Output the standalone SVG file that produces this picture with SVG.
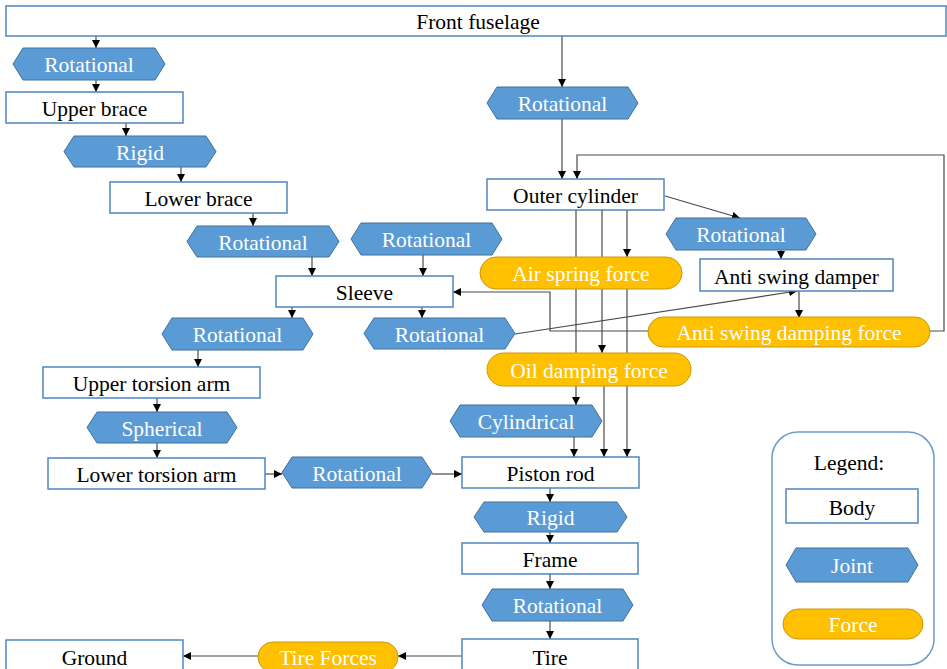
<svg xmlns="http://www.w3.org/2000/svg" width="947" height="669" viewBox="0 0 947 669">
<style>
.body rect{fill:#fff;stroke:#4F86C0;stroke-width:1.5}
.joint polygon{fill:#5B9BD5;stroke:#41719C;stroke-width:1}
.force rect{fill:#FFC000;stroke:#C9980A;stroke-width:1}
text{font-family:"Liberation Serif","Times New Roman",serif;font-size:21.5px;text-anchor:middle;transform:translateY(1px)}
.body text{fill:#000}
.joint text,.force text{fill:#fff}
.conn path{fill:none;stroke:#4a4a4a;stroke-width:1.2;marker-end:url(#ah)}
</style>
<defs>
<marker id="ah" markerUnits="userSpaceOnUse" markerWidth="9" markerHeight="9" refX="8" refY="4" orient="auto">
<path d="M0,0 L8,4 L0,8 z" fill="#000"/>
</marker>
</defs>
<rect width="947" height="669" fill="#fff"/>
<g id="connectors" class="conn">
<path d="M96,36 V48"/>
<path d="M96,80 V92"/>
<path d="M126,123 V136"/>
<path d="M181,167 V182"/>
<path d="M253,213 V226"/>
<path d="M312,257 V276"/>
<path d="M423,255 V276"/>
<path d="M292,307 V318"/>
<path d="M422,307 V318"/>
<path d="M198,350 V367"/>
<path d="M157,398 V412"/>
<path d="M157,443 V458"/>
<path d="M265,474 H282"/>
<path d="M432,474 H462"/>
<path d="M562,36 V87"/>
<path d="M562,119 V179"/>
<path d="M930,331 H944 V155 H577 V179"/>
<path d="M665,196 L740,218"/>
<path d="M781,250 V259"/>
<path d="M799,291 V318"/>
<path d="M515,334 L797,291"/>
<path d="M648,331 H550 V292 H453"/>
<path d="M627,210 V257"/>
<path d="M627,289 V457"/>
<path d="M602,210 V353"/>
<path d="M604,386 V457"/>
<path d="M576,210 V405"/>
<path d="M574,437 V457"/>
<path d="M550,488 V502"/>
<path d="M550,532 V543"/>
<path d="M550,574 V589"/>
<path d="M550,621 V639"/>
<path d="M462,656 H398"/>
<path d="M258,656 H183"/>
</g>
<g id="front-fuselage" class="body"><rect x="6" y="6" width="940" height="30"/><text x="478" y="28">Front fuselage</text></g>
<g id="joint-rot1" class="joint"><polygon points="13,64 23,48 155,48 165,64 155,80 23,80"/><text x="89" y="71">Rotational</text></g>
<g id="upper-brace" class="body"><rect x="6" y="92" width="177" height="31"/><text x="94.5" y="115">Upper brace</text></g>
<g id="joint-rigid1" class="joint"><polygon points="64,151.5 74,136 206,136 216,151.5 206,167 74,167"/><text x="140" y="159">Rigid</text></g>
<g id="lower-brace" class="body"><rect x="110" y="182" width="177" height="31"/><text x="198.5" y="205">Lower brace</text></g>
<g id="joint-rot2" class="joint"><polygon points="187,241.5 197,226 329,226 339,241.5 329,257 197,257"/><text x="263" y="249">Rotational</text></g>
<g id="joint-rot3" class="joint"><polygon points="351,239 361,223 492,223 502,239 492,255 361,255"/><text x="426.5" y="246">Rotational</text></g>
<g id="sleeve" class="body"><rect x="276" y="276" width="177" height="31"/><text x="364.5" y="299">Sleeve</text></g>
<g id="joint-rot4" class="joint"><polygon points="162,334 172,318 303,318 313,334 303,350 172,350"/><text x="237.5" y="341">Rotational</text></g>
<g id="joint-rot5" class="joint"><polygon points="364,333.5 374,318 505,318 515,333.5 505,349 374,349"/><text x="439.5" y="341">Rotational</text></g>
<g id="upper-torsion-arm" class="body"><rect x="43" y="367" width="217" height="31"/><text x="151.5" y="390">Upper torsion arm</text></g>
<g id="joint-spherical" class="joint"><polygon points="87,427.5 97,412 227,412 237,427.5 227,443 97,443"/><text x="162" y="435">Spherical</text></g>
<g id="lower-torsion-arm" class="body"><rect x="48" y="458" width="217" height="31"/><text x="156.5" y="481">Lower torsion arm</text></g>
<g id="joint-rot6" class="joint"><polygon points="282,472.5 292,457 422,457 432,472.5 422,488 292,488"/><text x="357" y="480">Rotational</text></g>
<g id="joint-rot7" class="joint"><polygon points="487,103 497,87 628,87 638,103 628,119 497,119"/><text x="562.5" y="110">Rotational</text></g>
<g id="outer-cylinder" class="body"><rect x="487" y="179" width="177" height="31"/><text x="575.5" y="202">Outer cylinder</text></g>
<g id="joint-rot8" class="joint"><polygon points="666,234 676,218 806,218 816,234 806,250 676,250"/><text x="741" y="241">Rotational</text></g>
<g id="anti-swing-damper" class="body"><rect x="700" y="259" width="193" height="32"/><text x="796.5" y="283">Anti swing damper</text></g>
<g id="air-spring-force" class="force"><rect x="480" y="257" width="202" height="32" rx="16"/><text x="581" y="280">Air spring force</text></g>
<g id="anti-swing-damping-force" class="force"><rect x="648" y="317" width="282" height="30" rx="15"/><text x="789" y="339">Anti swing damping force</text></g>
<g id="oil-damping-force" class="force"><rect x="487" y="353" width="204" height="33" rx="16.5"/><text x="589" y="377">Oil damping force</text></g>
<g id="joint-cylindrical" class="joint"><polygon points="450,421 460,405 592,405 602,421 592,437 460,437"/><text x="526" y="428">Cylindrical</text></g>
<g id="piston-rod" class="body"><rect x="462" y="457" width="177" height="31"/><text x="550.5" y="480">Piston rod</text></g>
<g id="joint-rigid2" class="joint"><polygon points="474,517 484,502 617,502 627,517 617,532 484,532"/><text x="550.5" y="524">Rigid</text></g>
<g id="frame" class="body"><rect x="462" y="543" width="176" height="31"/><text x="550" y="566">Frame</text></g>
<g id="joint-rot9" class="joint"><polygon points="482,605 492,589 623,589 633,605 623,621 492,621"/><text x="557.5" y="612">Rotational</text></g>
<g id="tire" class="body"><rect x="462" y="639" width="176" height="40"/><text x="550" y="664">Tire</text></g>
<g id="tire-forces" class="force"><rect x="258" y="642" width="140" height="30" rx="15"/><text x="328" y="664">Tire Forces</text></g>
<g id="ground" class="body"><rect x="6" y="640" width="177" height="40"/><text x="94.5" y="664">Ground</text></g>
<g id="legend">
<rect x="772" y="432" width="162" height="233" rx="26" fill="#fff" stroke="#6D9ACB" stroke-width="1.5"/>
<text x="849" y="469" fill="#000">Legend:</text>
<g id="legend-body" class="body"><rect x="786" y="489" width="132" height="34"/><text x="852" y="514">Body</text></g>
<g id="legend-joint" class="joint"><polygon points="786,565 796,548 908,548 918,565 908,582 796,582"/><text x="852" y="572">Joint</text></g>
<g id="legend-force" class="force"><rect x="783" y="609" width="140" height="30" rx="15"/><text x="853" y="631">Force</text></g>
</g>
</svg>
